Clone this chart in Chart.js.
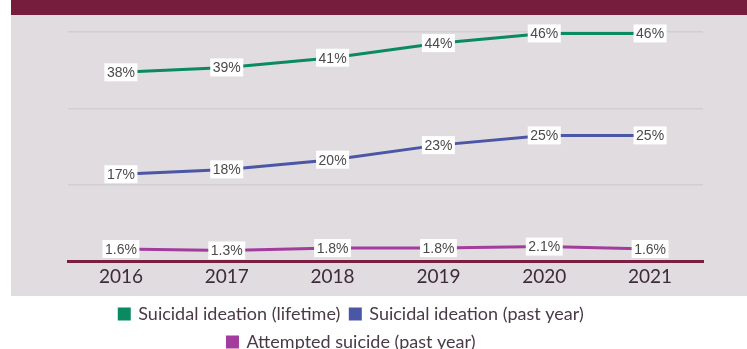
<!DOCTYPE html>
<html>
<head>
<meta charset="utf-8">
<script src="https://cdn.jsdelivr.net/npm/chart.js@4"></script>
<style>
  html, body { margin: 0; padding: 0; background: #fff; }
  #wrap { position: relative; width: 747px; height: 349px; overflow: hidden; }
  #band { position: absolute; left: 11px; top: 0; width: 736px; height: 15px; background: #761c3c; }
  #panel { position: absolute; left: 11px; top: 15px; width: 736px; height: 281px; background: #e0dcdf; }
  #chart { position: absolute; left: 0; top: 0; }
</style>
</head>
<body>
<div id="wrap">
  <div id="band"></div>
  <div id="panel"></div>
  <canvas id="chart" width="747" height="349"></canvas>
</div>
<script>
const years = ['2016', '2017', '2018', '2019', '2020', '2021'];
const lifetimeIdeation = [38, 39, 41, 44, 46, 46];
const pastYearIdeation = [17, 18, 20, 23, 25, 25];
const attemptedSuicide = [1.6, 1.3, 1.8, 1.8, 2.1, 1.6];
const seriesNames = ['Suicidal ideation (lifetime)', 'Suicidal ideation (past year)', 'Attempted suicide (past year)'];
const seriesColors = ['#0a8a60', '#4b56a6', '#a23d9d'];

// white value boxes centred on each point
const valueLabels = {
  id: 'valueLabels',
  afterDatasetsDraw(chart) {
    const ctx = chart.ctx;
    ctx.save();
    ctx.font = '14px "Liberation Sans", Arial, sans-serif';
    ctx.textAlign = 'center';
    ctx.textBaseline = 'middle';
    chart.data.datasets.forEach((ds, i) => {
      const meta = chart.getDatasetMeta(i);
      meta.data.forEach((pt, j) => {
        const txt = ds.data[j] + '%';
        const w = Math.max(ctx.measureText(txt).width + 5, 33);
        ctx.fillStyle = '#ffffff';
        ctx.fillRect(pt.x - w / 2, pt.y - 9, w, 18);
        ctx.fillStyle = '#4a4a4a';
        ctx.fillText(txt, pt.x, pt.y + 1);
      });
    });
    ctx.restore();
  }
};

function buildLineChart(canvasId) {
  const ctx = document.getElementById(canvasId).getContext('2d');
  const data = [lifetimeIdeation, pastYearIdeation, attemptedSuicide];
  return new Chart(ctx, {
    type: 'line',
    data: {
      labels: years,
      datasets: data.map((d, i) => ({
        label: seriesNames[i],
        data: d,
        borderColor: seriesColors[i],
        backgroundColor: seriesColors[i],
        borderWidth: 3,
        pointRadius: 0,
        tension: 0
      }))
    },
    options: {
      responsive: false,
      animation: false,
      layout: { padding: { left: 0, right: 44, top: 32, bottom: -12 } },
      plugins: {
        tooltip: { enabled: false },
        legend: {
          position: 'bottom',
          labels: {
            boxWidth: 10,
            boxHeight: 10,
            padding: 10,
            color: '#4a3a48',
            font: { family: 'Lato, "Open Sans", sans-serif', size: 18 }
          }
        }
      },
      scales: {
        x: {
          offset: true,
          afterFit(scale) { scale.height = 34; },
          grid: { display: false, drawTicks: false },
          border: { display: true, color: '#7a1f40', width: 3 },
          ticks: {
            color: '#3d2a3a',
            padding: 4,
            font: { family: 'Lato, "Open Sans", sans-serif', size: 19 }
          }
        },
        y: {
          min: -0.87,
          max: 46.3,
          afterFit(scale) { scale.width = 68; },
          ticks: { display: true, count: 4, color: 'rgba(0,0,0,0)', font: { size: 1 } },
          grid: { color: '#d2ced1', lineWidth: 1.5, drawTicks: false },
          border: { display: false }
        }
      }
    },
    plugins: [valueLabels]
  });
}

buildLineChart('chart');
</script>
</body>
</html>
